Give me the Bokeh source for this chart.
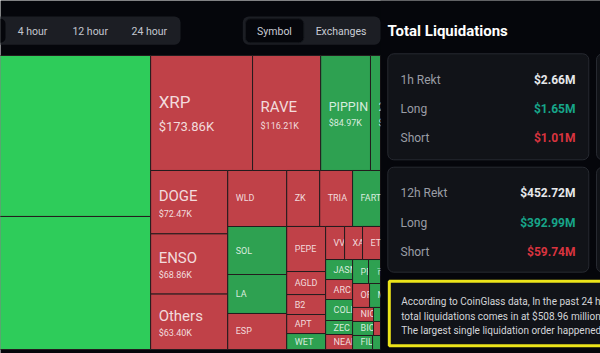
from bokeh.plotting import figure
from bokeh.models import Range1d
from bokeh.core.properties import value
from bokeh.embed import file_html
from bokeh.resources import INLINE

# ---------------- data ----------------
# 1h liquidations per coin, in thousands of USD (tiles of the treemap)
coins = ["BTC", "ETH", "XRP", "RAVE", "PIPPIN", "2Z", "DOGE", "ENSO", "Others",
         "WLD", "SOL", "LA", "ESP", "ZK", "TRIA", "FART", "PEPE", "AGLD", "B2",
         "APT", "WET", "VV", "XA", "ET", "JASMY", "ARC", "COLL", "ZEC", "NEAR",
         "PF", "币安人生", "OF", "M", "NIC", "t1", "BIC", "t2", "FIL", "t3"]
liq_k = [1180.0, 975.0, 173.86, 116.21, 84.97, 17.06, 72.47, 68.86, 63.40,
         49.0, 42.0, 34.1, 31.5, 27.4, 27.3, 23.2, 26.0, 13.3, 11.5,
         11.0, 9.2, 9.3, 8.8, 8.8, 8.0, 8.0, 8.4, 5.6, 6.0,
         5.67, 4.26, 6.03, 3.9, 4.35, 1.45, 4.35, 1.45, 4.15, 1.65]
# dominant side of the liquidations (long = green, short = red)
side = ["long", "long", "short", "short", "long", "long", "short", "short", "short",
        "short", "long", "long", "short", "short", "short", "long", "short", "short", "short",
        "short", "long", "short", "short", "short", "long", "short", "long", "long", "short",
        "long", "long", "short", "long", "short", "long", "long", "short", "long", "long"]
# tiles too small to carry a visible label
unlabeled = ["t1", "t2", "t3"]

# treemap structure (h = side by side, v = stacked)
tree = ("h", [
    ("v", ["BTC", "ETH"]),
    ("v", [
        ("h", ["XRP", "RAVE", "PIPPIN", "2Z"]),
        ("h", [
            ("v", ["DOGE", "ENSO", "Others"]),
            ("v", ["WLD", "SOL", "LA", "ESP"]),
            ("v", [
                ("h", ["ZK", "TRIA", "FART"]),
                ("h", [
                    ("v", ["PEPE", "AGLD", "B2", "APT", "WET"]),
                    ("v", [
                        ("h", ["VV", "XA", "ET"]),
                        ("h", [
                            ("v", ["JASMY", "ARC", "COLL", "ZEC", "NEAR"]),
                            ("v", [("h", ["PF", "币安人生"]), ("h", ["OF", "M"]),
                                   ("h", ["NIC", "t1"]), ("h", ["BIC", "t2"]),
                                   ("h", ["FIL", "t3"])]),
                        ]),
                    ]),
                ]),
            ]),
        ]),
    ]),
])

time_options = ["4 hour", "12 hour", "24 hour"]
view_options = ["Symbol", "Exchanges"]
panel_title = "Total Liquidations"
periods = ["1h Rekt", "12h Rekt"]
totals = ["$2.66M", "$452.72M"]
longs = ["$1.65M", "$392.99M"]
shorts = ["$1.01M", "$59.74M"]
summary_lines = ["According to CoinGlass data, In the past 24 hours,",
                 "total liquidations comes in at $508.96 million.",
                 "The largest single liquidation order happened"]

# ---------------- style ----------------
BG = "#05060b"
GROUP = "#1c1e24"
CARD = "#111318"
CARD_LINE = "#272a31"
RED = "#c04148"
GREEN = "#2ea151"
GREEN_BRIGHT = "#2ecc5a"
FONT = value("Roboto")
LABEL_STYLE = {"XRP": (17, 13, 10.5, 13.5), "RAVE": (15, 9, 5.8, 12.8),
               "PIPPIN": (12.5, 9, 6.3, 10), "2Z": (12.5, 9, 6.3, 10),
               "DOGE": (15, 9, 5.8, 11.5), "ENSO": (15, 9, 5.8, 11.5),
               "Others": (15, 9, 5.8, 11.5)}

val = dict(zip(coins, liq_k))
sd = dict(zip(coins, side))


def node_value(n):
    if isinstance(n, str):
        return val[n]
    return sum(node_value(k) for k in n[1])


def split(n, x0, y0, x1, y1, out):
    if isinstance(n, str):
        out[n] = (x0, y0, x1, y1)
        return
    d, kids = n
    tot = node_value(n)
    pos = x0 if d == "h" else y0
    for k in kids:
        f = node_value(k) / tot
        if d == "h":
            w = (x1 - x0) * f
            split(k, pos, y0, pos + w, y1, out)
            pos += w
        else:
            h = (y1 - y0) * f
            split(k, x0, pos, x1, pos + h, out)
            pos += h


TM_LEFT, TM_TOP, TM_RIGHT, TM_BOTTOM = -344, 55, 380, 349
rects = {}
split(tree, TM_LEFT, TM_TOP, TM_RIGHT, TM_BOTTOM, rects)

p = figure(width=600, height=353, x_range=Range1d(0, 600), y_range=Range1d(353, 0),
           x_axis_type=None, y_axis_type=None, output_backend="svg",
           toolbar_location=None, min_border=0)
p.grid.visible = False
p.outline_line_color = None
p.background_fill_color = BG
p.border_fill_color = BG

for name in sorted(rects, key=lambda n: (round(rects[n][0], 2), rects[n][1])):
    x0, y0, x1, y1 = rects[name]
    if sd[name] == "long":
        col = GREEN_BRIGHT if val[name] > 500 else GREEN
    else:
        col = RED
    p.quad(left=[x0], right=[x1], top=[y0], bottom=[y1], fill_color=col,
           line_color="#231c1e", line_width=1)
    if x0 + 8 < 0 or name in unlabeled:
        continue  # label lies outside the visible window
    cy = (y0 + y1) / 2
    if name in LABEL_STYLE:
        fn, fv, dn, dv = LABEL_STYLE[name]
        p.text(x=[x0 + 8], y=[cy - dn], text=[name], text_font=FONT,
               text_font_size=f"{fn}px", text_color="white", text_alpha=0.82,
               text_baseline="middle", text_align="left")
        p.text(x=[x0 + 8], y=[cy + dv], text=[f"${val[name]:.2f}K"], text_font=FONT,
               text_font_size=f"{fv}px", text_color="white", text_alpha=0.82,
               text_baseline="middle", text_align="left")
    else:
        p.text(x=[x0 + 8], y=[cy], text=[name], text_font=FONT,
               text_font_size="9px", text_color="white", text_alpha=0.82,
               text_baseline="middle", text_align="left")

# strip that hides the treemap overflow on the right
p.quad(left=[TM_RIGHT], right=[600], top=[0], bottom=[353], fill_color=BG, line_color=None)

# top controls
p.quad(left=[-20], right=[180], top=[16], bottom=[44.3], fill_color=GROUP,
       line_color=None, border_radius=6)
p.quad(left=[-20], right=[5], top=[18.3], bottom=[42.3], fill_color=BG,
       line_color=None, border_radius=5)
p.text(x=[32, 89.7, 148.8], y=[30.7] * 3, text=time_options, text_font=FONT,
       text_font_size="10.5px", text_color="#c3c6ce", text_align="center",
       text_baseline="middle")
p.quad(left=[242.3], right=[380], top=[16], bottom=[44.3], fill_color=GROUP,
       line_color=None, border_radius=6)
p.quad(left=[245], right=[303.3], top=[18.3], bottom=[42.3], fill_color=BG,
       line_color="#15171c", border_radius=5)
p.text(x=[274, 340.5], y=[30.7] * 2, text=view_options, text_font=FONT,
       text_font_size="10.5px", text_color="#c9ccd4", text_align="center",
       text_baseline="middle")

# right panel
p.text(x=[387], y=[30.5], text=[panel_title], text_font=FONT, text_font_size="15px",
       text_font_style="bold", text_color="white", text_baseline="middle")
card_tops = [53.3, 166.7]
card_bottoms = [159.3, 271.7]
p.quad(left=[387.3, 387.3, 596, 596], right=[588.3, 588.3, 720, 720],
       top=card_tops * 2, bottom=card_bottoms * 2, fill_color=CARD,
       line_color=CARD_LINE, line_width=1, border_radius=6)
row_off = [25.7, 55.5, 84.6]
for i in range(len(periods)):
    ys = [card_tops[i] + o for o in row_off]
    p.text(x=[400] * 3, y=ys, text=[periods[i], "Long", "Short"], text_font=FONT,
           text_font_size="12px", text_color="#9a9da5", text_baseline="middle")
    p.text(x=[575] * 3, y=ys, text=[totals[i], longs[i], shorts[i]], text_font=FONT,
           text_font_size="12px", text_font_style="bold",
           text_color=["#e6e7ea", "#17a589", "#d9343f"], text_align="right",
           text_baseline="middle")

p.quad(left=[388.8], right=[650], top=[280.8], bottom=[345.2], fill_color=CARD,
       line_color="#ece41a", line_width=3)
p.text(x=[400.7] * 3, y=[301, 315.7, 330.3], text=summary_lines, text_font=FONT,
       text_font_size="10px", text_color="#d4d5d9", text_baseline="middle")

open("out.html", "w").write(file_html(p, INLINE))
